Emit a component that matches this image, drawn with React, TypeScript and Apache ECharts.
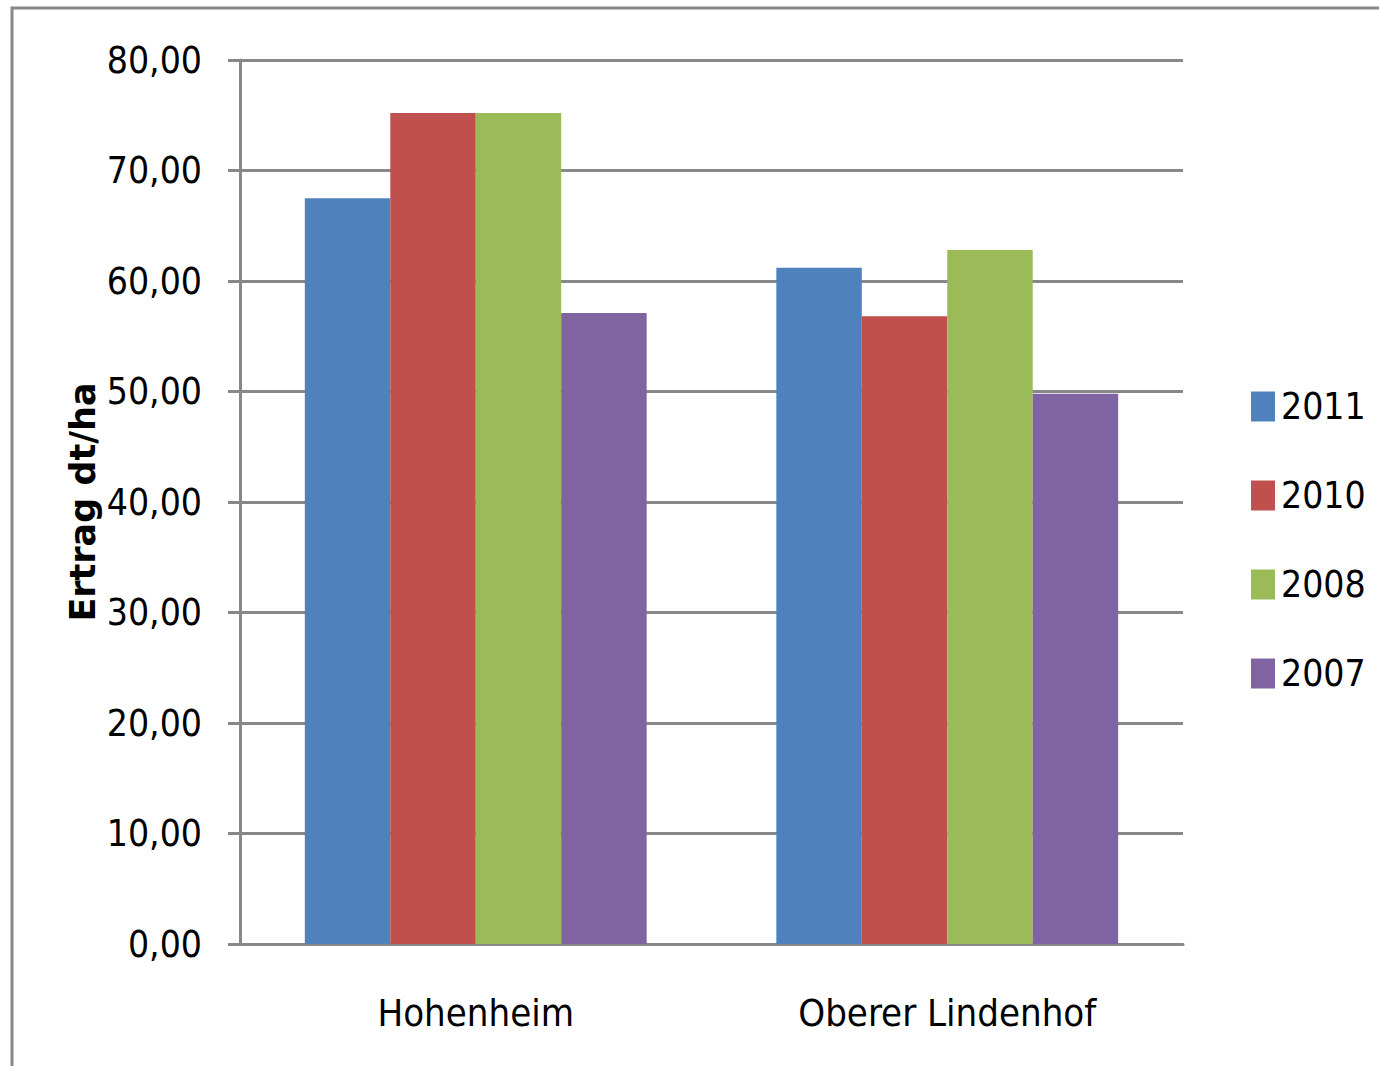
import React, { useEffect, useRef } from "react";
import * as echarts from "echarts";

const categories = ["Hohenheim", "Oberer Lindenhof"];
const seriesNames = ["2011", "2010", "2008", "2007"];
const values2011 = [67.5, 61.2];
const values2010 = [75.2, 56.8];
const values2008 = [75.2, 62.8];
const values2007 = [57.1, 49.8];
const colors = ["#4F81BD", "#C0504D", "#9BBB59", "#8064A2"];
const FONT = "'DejaVu Sans Condensed', 'Liberation Sans Narrow', sans-serif";

export default function App() {
  const ref = useRef<HTMLDivElement>(null);
  useEffect(() => {
    if (!ref.current) return;
    const chart = echarts.init(ref.current, undefined, { renderer: "svg" });
    const data = [values2011, values2010, values2008, values2007];
    chart.setOption({
      animation: false,
      backgroundColor: "#ffffff",
      graphic: [
        {
          type: "rect",
          shape: { x: 12, y: 8, width: 1500, height: 1200 },
          style: { fill: "none", stroke: "#888888", lineWidth: 3 },
          silent: true,
        },
      ],
      grid: { left: 240, right: 196, top: 60, bottom: 122 },
      legend: {
        orient: "vertical",
        left: 1246,
        top: 383,
        itemWidth: 24,
        itemHeight: 30,
        itemGap: 52,
        icon: "rect",
        textStyle: { fontFamily: FONT, fontSize: 37, color: "#000", padding: [0, 0, 0, 1] },
        data: seriesNames,
      },
      xAxis: {
        type: "category",
        data: categories,
        axisLine: { lineStyle: { color: "#888888", width: 3 } },
        axisTick: { show: false },
        axisLabel: { fontFamily: FONT, fontSize: 38, color: "#000", margin: 50 },
      },
      yAxis: {
        type: "value",
        min: 0,
        max: 80,
        interval: 10,
        name: "Ertrag dt/ha",
        nameLocation: "middle",
        nameGap: 140,
        nameMoveOverlap: false,
        nameTextStyle: { fontFamily: "'DejaVu Sans', sans-serif", fontSize: 35, fontWeight: "bold", color: "#000" },
        axisLine: { show: true, lineStyle: { color: "#888888", width: 3 } },
        axisTick: { show: true, length: 12, lineStyle: { color: "#888888", width: 3 } },
        splitLine: { lineStyle: { color: "#888888", width: 3 } },
        axisLabel: {
          fontFamily: FONT,
          fontSize: 37,
          color: "#000",
          margin: 38,
          formatter: (v: number) => v.toFixed(2).replace(".", ","),
        },
      },
      series: seriesNames.map((n, i) => ({
        name: n,
        type: "bar",
        data: data[i],
        itemStyle: { color: colors[i] },
        barGap: "0%",
        barCategoryGap: "27.5%",
      })),
    });
    return () => chart.dispose();
  }, []);
  return <div ref={ref} style={{ position: "absolute", left: 0, top: 0, width: 1379, height: 1066 }} />;
}
